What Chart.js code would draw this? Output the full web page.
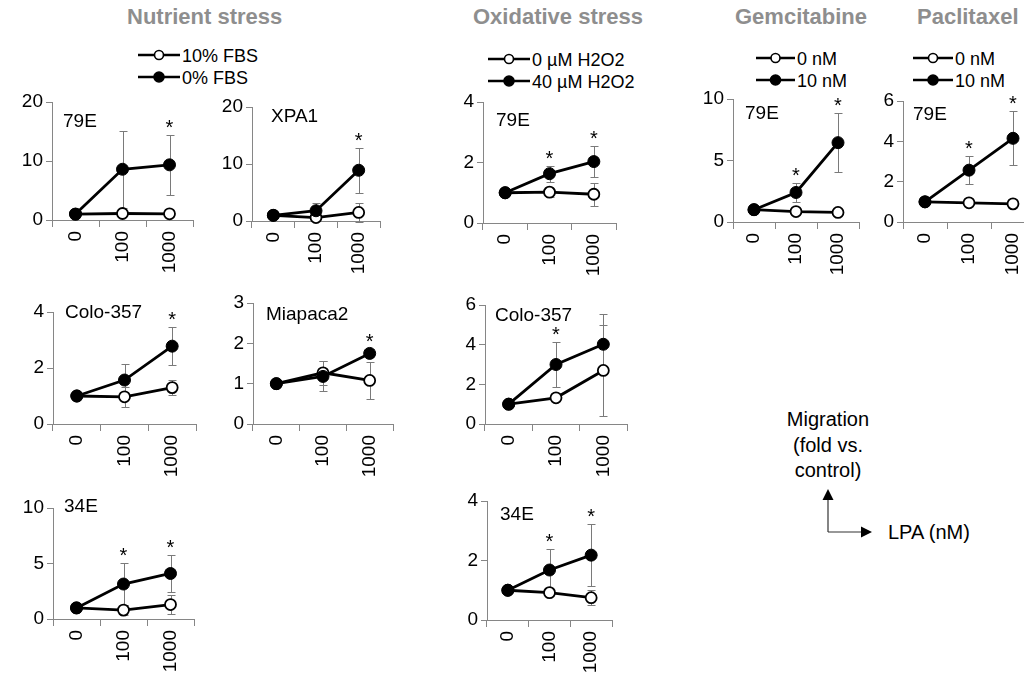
<!DOCTYPE html>
<html><head><meta charset="utf-8">
<script src="https://cdn.jsdelivr.net/npm/chart.js@4.4.1/dist/chart.umd.min.js"></script>
<style>
html,body{margin:0;padding:0;width:1024px;height:673px;overflow:hidden;background:#fff;font-family:"Liberation Sans",Arial,sans-serif;}
canvas{position:absolute;}
.title{position:absolute;top:5px;font-weight:bold;font-size:22px;line-height:24px;color:#8e8e8e;white-space:nowrap;}
svg{position:absolute;left:0;top:0;}
</style></head>
<body>
<div class="title" style="left:127px">Nutrient stress</div>
<div class="title" style="left:473px">Oxidative stress</div>
<div class="title" style="left:735px">Gemcitabine</div>
<div class="title" style="left:917px">Paclitaxel</div>
<svg id="deco" width="1024" height="673" font-family="Liberation Sans, Arial, sans-serif"></svg>
<script>
// ---------- DATA ----------
const categories = ['0', '100', '1000'];

// Legend labels per group
const nutrientLegend = ['10% FBS', '0% FBS'];
const oxidativeLegend = ['0 \u00b5M H2O2', '40 \u00b5M H2O2'];
const gemLegend = ['0 nM', '10 nM'];
const pacLegend = ['0 nM', '10 nM'];

// Nutrient stress – 79E
const nut79E_ctrl = [1.0, 1.1, 1.05];
const nut79E_trt = [1.0, 8.6, 9.35];
const nut79E_ctrlErr = [0, 0.4, 0.6];
const nut79E_trtErr = [0, 6.5, 5.1];
const nut79E_sig = [0, 0, 1];
const nut79E_ticks = [0, 10, 20];

// Nutrient stress – XPA1
const nutXPA1_ctrl = [1.0, 0.6, 1.5];
const nutXPA1_trt = [1.0, 1.8, 8.9];
const nutXPA1_ctrlErr = [0, 0.3, 1.7];
const nutXPA1_trtErr = [0, 1.4, 3.9];
const nutXPA1_sig = [0, 0, 1];
const nutXPA1_ticks = [0, 10, 20];

// Nutrient stress – Colo-357
const nutColo_ctrl = [1.0, 0.97, 1.3];
const nutColo_trt = [1.0, 1.57, 2.78];
const nutColo_ctrlErr = [0, 0.35, 0.27];
const nutColo_trtErr = [0, 0.57, 0.67];
const nutColo_sig = [0, 0, 1];
const nutColo_ticks = [0, 2, 4];

// Nutrient stress – Miapaca2
const nutMia_ctrl = [1.0, 1.27, 1.08];
const nutMia_trt = [1.0, 1.18, 1.75];
const nutMia_ctrlErr = [0, 0.3, 0.45];
const nutMia_trtErr = [0, 0.37, 0.1];
const nutMia_sig = [0, 0, 1];
const nutMia_ticks = [0, 1, 2, 3];

// Nutrient stress – 34E
const nut34E_ctrl = [1.0, 0.8, 1.3];
const nut34E_trt = [1.0, 3.15, 4.1];
const nut34E_ctrlErr = [0, 0.45, 0.85];
const nut34E_trtErr = [0, 1.9, 1.7];
const nut34E_sig = [0, 1, 1];
const nut34E_ticks = [0, 5, 10];

// Oxidative stress – 79E
const ox79E_ctrl = [1.0, 1.02, 0.95];
const ox79E_trt = [1.0, 1.63, 2.03];
const ox79E_ctrlErr = [0, 0.15, 0.38];
const ox79E_trtErr = [0, 0.26, 0.5];
const ox79E_sig = [0, 1, 1];
const ox79E_ticks = [0, 2, 4];

// Oxidative stress – Colo-357
const oxColo_ctrl = [1.0, 1.32, 2.7];
const oxColo_trt = [1.0, 3.0, 4.02];
const oxColo_ctrlErr = [0, 0.15, 2.28];
const oxColo_trtErr = [0, 1.15, 1.52];
const oxColo_sig = [0, 1, 0];
const oxColo_ticks = [0, 2, 4, 6];

// Oxidative stress – 34E
const ox34E_ctrl = [1.0, 0.92, 0.75];
const ox34E_trt = [1.0, 1.68, 2.18];
const ox34E_ctrlErr = [0, 0.1, 0.25];
const ox34E_trtErr = [0, 0.72, 1.04];
const ox34E_sig = [0, 1, 1];
const ox34E_ticks = [0, 2, 4];

// Gemcitabine – 79E
const gem79E_ctrl = [1.0, 0.85, 0.78];
const gem79E_trt = [1.0, 2.4, 6.45];
const gem79E_ctrlErr = [0, 0.1, 0.1];
const gem79E_trtErr = [0, 0.78, 2.4];
const gem79E_sig = [0, 1, 1];
const gem79E_ticks = [0, 5, 10];

// Paclitaxel – 79E
const pac79E_ctrl = [1.0, 0.95, 0.9];
const pac79E_trt = [1.0, 2.57, 4.15];
const pac79E_ctrlErr = [0, 0.05, 0.05];
const pac79E_trtErr = [0, 0.7, 1.33];
const pac79E_sig = [0, 1, 1];
const pac79E_ticks = [0, 2, 4, 6];

const panels = [
  {label: '79E', ctrl: nut79E_ctrl, trt: nut79E_trt, ctrlErr: nut79E_ctrlErr, trtErr: nut79E_trtErr, sig: nut79E_sig, ticks: nut79E_ticks},
  {label: 'XPA1', ctrl: nutXPA1_ctrl, trt: nutXPA1_trt, ctrlErr: nutXPA1_ctrlErr, trtErr: nutXPA1_trtErr, sig: nutXPA1_sig, ticks: nutXPA1_ticks},
  {label: 'Colo-357', ctrl: nutColo_ctrl, trt: nutColo_trt, ctrlErr: nutColo_ctrlErr, trtErr: nutColo_trtErr, sig: nutColo_sig, ticks: nutColo_ticks},
  {label: 'Miapaca2', ctrl: nutMia_ctrl, trt: nutMia_trt, ctrlErr: nutMia_ctrlErr, trtErr: nutMia_trtErr, sig: nutMia_sig, ticks: nutMia_ticks},
  {label: '34E', ctrl: nut34E_ctrl, trt: nut34E_trt, ctrlErr: nut34E_ctrlErr, trtErr: nut34E_trtErr, sig: nut34E_sig, ticks: nut34E_ticks},
  {label: '79E', ctrl: ox79E_ctrl, trt: ox79E_trt, ctrlErr: ox79E_ctrlErr, trtErr: ox79E_trtErr, sig: ox79E_sig, ticks: ox79E_ticks},
  {label: 'Colo-357', ctrl: oxColo_ctrl, trt: oxColo_trt, ctrlErr: oxColo_ctrlErr, trtErr: oxColo_trtErr, sig: oxColo_sig, ticks: oxColo_ticks},
  {label: '34E', ctrl: ox34E_ctrl, trt: ox34E_trt, ctrlErr: ox34E_ctrlErr, trtErr: ox34E_trtErr, sig: ox34E_sig, ticks: ox34E_ticks},
  {label: '79E', ctrl: gem79E_ctrl, trt: gem79E_trt, ctrlErr: gem79E_ctrlErr, trtErr: gem79E_trtErr, sig: gem79E_sig, ticks: gem79E_ticks},
  {label: '79E', ctrl: pac79E_ctrl, trt: pac79E_trt, ctrlErr: pac79E_ctrlErr, trtErr: pac79E_trtErr, sig: pac79E_sig, ticks: pac79E_ticks}
];

// ---------- LAYOUT (plot-area boxes in page pixels, label offsets) ----------
const layout = [
  {left: 52, right: 193, top: 102, bottom: 220, lx: 11, ly: 25},
  {left: 252, right: 380, top: 107, bottom: 221, lx: 19, ly: 15},
  {left: 53, right: 196, top: 312, bottom: 424, lx: 12, ly: 6},
  {left: 253, right: 393, top: 303, bottom: 424, lx: 13, ly: 17},
  {left: 53, right: 194, top: 508, bottom: 619, lx: 11, ly: 4},
  {left: 483, right: 616, top: 102, bottom: 223, lx: 13, ly: 24},
  {left: 485, right: 627, top: 305, bottom: 424, lx: 10, ly: 16},
  {left: 487, right: 612, top: 501, bottom: 620, lx: 13, ly: 19},
  {left: 733, right: 859, top: 99, bottom: 222, lx: 12, ly: 20},
  {left: 903, right: 1035, top: 101, bottom: 222, lx: 10, ly: 19}
];

const FONT = '"Liberation Sans", Arial, sans-serif';
const AXIS_GRAY = '#868686';
const ERR_GRAY = '#7a7a7a';

const errorBarPlugin = {
  id: 'errorBars',
  beforeDatasetsDraw(chart) {
    const ctx = chart.ctx, ys = chart.scales.y;
    ctx.save();
    ctx.strokeStyle = ERR_GRAY;
    ctx.lineWidth = 1;
    chart.data.datasets.forEach((ds, di) => {
      const meta = chart.getDatasetMeta(di);
      ds.errors.forEach((e, i) => {
        if (!e) return;
        const x = Math.round(meta.data[i].x) + 0.5;
        const yt = Math.round(ys.getPixelForValue(ds.data[i] + e)) + 0.5;
        const yb = Math.round(ys.getPixelForValue(ds.data[i] - e)) + 0.5;
        ctx.beginPath();
        ctx.moveTo(x, yt); ctx.lineTo(x, yb);
        ctx.moveTo(x - 4, yt); ctx.lineTo(x + 4, yt);
        ctx.moveTo(x - 4, yb); ctx.lineTo(x + 4, yb);
        ctx.stroke();
      });
    });
    ctx.restore();
  }
};

const decorPlugin = {
  id: 'decor',
  afterDatasetsDraw(chart, args, opts) {
    const ctx = chart.ctx, ys = chart.scales.y, area = chart.chartArea;
    ctx.save();
    ctx.fillStyle = '#000';
    ctx.font = '19px ' + FONT;
    ctx.textAlign = 'left';
    ctx.textBaseline = 'alphabetic';
    ctx.fillText(opts.label, area.left + opts.lx, area.top + opts.ly);
    ctx.font = '20px ' + FONT;
    ctx.textAlign = 'center';
    const ds = chart.data.datasets;
    opts.sig.forEach((s, i) => {
      if (!s) return;
      let top = -Infinity;
      ds.forEach(d => { top = Math.max(top, d.data[i] + d.errors[i]); });
      const x = chart.getDatasetMeta(0).data[i].x;
      ctx.fillText('*', x, ys.getPixelForValue(top) - 1);
    });
    ctx.restore();
  }
};

function buildPanel(p, L) {
  const YW = 60, PT = 30, PR = 14, XH = 64;
  const w = (L.right - L.left) + YW + PR;
  const h = (L.bottom - L.top) + PT + XH;
  const canvas = document.createElement('canvas');
  canvas.width = w; canvas.height = h;
  canvas.style.left = (L.left - YW) + 'px';
  canvas.style.top = (L.top - PT) + 'px';
  canvas.style.width = w + 'px';
  canvas.style.height = h + 'px';
  document.body.appendChild(canvas);
  const yMax = p.ticks[p.ticks.length - 1];
  new Chart(canvas, {
    type: 'line',
    data: {
      labels: categories,
      datasets: [
        {data: p.trt, errors: p.trtErr, borderColor: '#000', borderWidth: 2.8, tension: 0,
         pointRadius: 6, pointBackgroundColor: '#000', pointBorderColor: '#000', pointBorderWidth: 1, clip: false},
        {data: p.ctrl, errors: p.ctrlErr, borderColor: '#000', borderWidth: 2.8, tension: 0,
         pointRadius: 5.5, pointBackgroundColor: '#fff', pointBorderColor: '#000', pointBorderWidth: 1.8, clip: false}
      ]
    },
    options: {
      responsive: false,
      animation: false,
      events: [],
      layout: {padding: {left: 0, right: PR, top: PT, bottom: 0}},
      plugins: {
        legend: {display: false},
        tooltip: {enabled: false},
        decor: {label: p.label, lx: L.lx, ly: L.ly, sig: p.sig}
      },
      scales: {
        x: {
          offset: true,
          grid: {offset: true, drawOnChartArea: false, drawTicks: true, tickLength: 7, color: AXIS_GRAY, lineWidth: 1},
          border: {display: true, color: AXIS_GRAY, width: 1},
          ticks: {minRotation: 90, maxRotation: 90, autoSkip: false, padding: 4, color: '#000', font: {family: FONT, size: 19}},
          afterFit(s) { s.height = XH; }
        },
        y: {
          min: 0, max: yMax,
          afterBuildTicks(s) { s.ticks = p.ticks.map(v => ({value: v})); },
          grid: {drawOnChartArea: false, drawTicks: true, tickLength: 6, color: AXIS_GRAY, lineWidth: 1},
          border: {display: true, color: AXIS_GRAY, width: 1},
          ticks: {padding: 3, color: '#000', font: {family: FONT, size: 19}},
          afterFit(s) { s.width = YW; }
        }
      }
    },
    plugins: [errorBarPlugin, decorPlugin]
  });
}

panels.forEach((p, i) => buildPanel(p, layout[i]));

// ---------- Legends & key (SVG) ----------
const svg = document.getElementById('deco');
const NS = 'http://www.w3.org/2000/svg';
function el(tag, attrs, text) {
  const e = document.createElementNS(NS, tag);
  for (const k in attrs) e.setAttribute(k, attrs[k]);
  if (text !== undefined) e.textContent = text;
  svg.appendChild(e);
  return e;
}
function legend(labels, x1, x2, ys) {
  labels.forEach((t, i) => {
    const y = ys[i];
    el('line', {x1: x1, y1: y, x2: x2, y2: y, stroke: '#000', 'stroke-width': 2.5});
    el('circle', {cx: (x1 + x2) / 2, cy: y, r: i === 0 ? 4.5 : 5, fill: i === 0 ? '#fff' : '#000', stroke: '#000', 'stroke-width': 1.6});
    el('text', {x: x2 + 2, y: y + 6.5, 'font-size': 18, fill: '#000'}, t);
  });
}
legend(nutrientLegend, 138, 180, [55, 77]);
legend(oxidativeLegend, 488, 530, [59, 81]);
legend(gemLegend, 756, 795, [58, 80]);
legend(pacLegend, 913, 953, [58, 80]);

['Migration', '(fold vs.', 'control)'].forEach((t, i) => {
  el('text', {x: 828, y: [426, 452, 477][i], 'font-size': 20, 'text-anchor': 'middle', fill: '#000'}, t);
});
el('line', {x1: 828, y1: 532, x2: 828, y2: 499, stroke: '#333', 'stroke-width': 1.2});
el('polygon', {points: '822.5,500 833.5,500 828,489', fill: '#000'});
el('line', {x1: 828, y1: 532, x2: 862, y2: 532, stroke: '#333', 'stroke-width': 1.2});
el('polygon', {points: '861,526.5 861,537.5 872,532', fill: '#000'});
el('text', {x: 888, y: 539, 'font-size': 20, fill: '#000'}, 'LPA (nM)');
</script>
</body></html>
